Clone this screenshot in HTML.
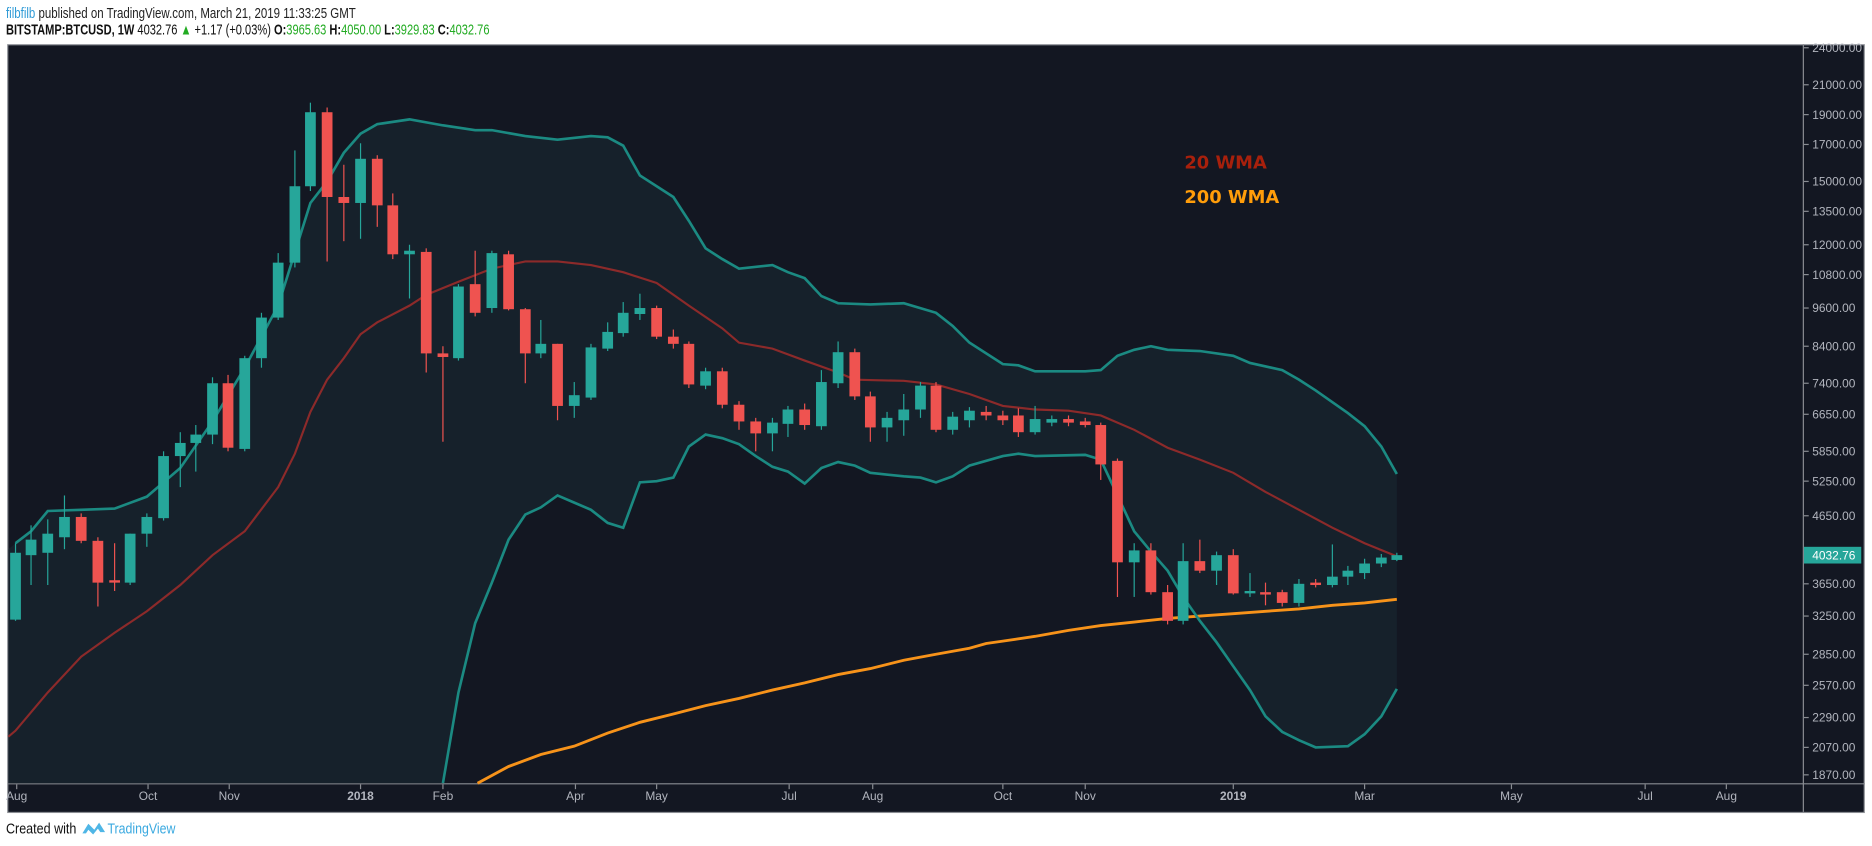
<!DOCTYPE html>
<html><head><meta charset="utf-8"><style>
html,body{margin:0;padding:0;background:#fff;width:1872px;height:846px;overflow:hidden}
svg{display:block}
</style></head><body>
<svg id="s" width="1872" height="846" viewBox="0 0 1568 708.6" preserveAspectRatio="none" xmlns="http://www.w3.org/2000/svg">
<rect x="0" y="0" width="1568" height="709" fill="#fff"/>
<text x="5" y="15" font-family="Liberation Sans Narrow, Liberation Sans, sans-serif" font-size="12.5" textLength="293" lengthAdjust="spacingAndGlyphs"><tspan fill="#2e9ad6">filbfilb</tspan><tspan fill="#222"> published on TradingView.com, March 21, 2019 11:33:25 GMT</tspan></text>
<text x="5" y="29" font-family="Liberation Sans Narrow, Liberation Sans, sans-serif" font-size="12.5" fill="#111" textLength="405" lengthAdjust="spacingAndGlyphs"><tspan font-weight="bold">BITSTAMP:BTCUSD, 1W</tspan><tspan> 4032.76 </tspan><tspan fill="#22ab22">▲</tspan><tspan> +1.17 (+0.03%) </tspan><tspan font-weight="bold">O:</tspan><tspan fill="#22ab22">3965.63 </tspan><tspan font-weight="bold">H:</tspan><tspan fill="#22ab22">4050.00 </tspan><tspan font-weight="bold">L:</tspan><tspan fill="#22ab22">3929.83 </tspan><tspan font-weight="bold">C:</tspan><tspan fill="#22ab22">4032.76</tspan></text>
<rect x="6.5" y="37.5" width="1555" height="643" fill="#131722" stroke="#8a8d93" stroke-width="1"/>
<line x1="1510.5" y1="37" x2="1510.5" y2="680" stroke="#8a8d93"/>
<line x1="7" y1="656.5" x2="1562" y2="656.5" stroke="#8a8d93"/>
<g id="plot"></g>
<g id="axes" font-family="Liberation Sans, sans-serif" font-size="10" fill="#b2b5be"></g>
<text x="992" y="141" font-family="DejaVu Sans, sans-serif" font-weight="bold" font-size="15" fill="#a8200c">20 WMA</text>
<text x="992" y="170" font-family="DejaVu Sans, sans-serif" font-weight="bold" font-size="15" fill="#ff9d0a">200 WMA</text>
<text x="5" y="698" font-family="Liberation Sans Narrow, Liberation Sans, sans-serif" font-size="12" fill="#111" textLength="59" lengthAdjust="spacingAndGlyphs">Created with</text>
<path d="M69 698 L74 690 L79 695 L83 689 L88 697 L84 697 L82 694 L78 699 L74 695 L72 698 Z" fill="#4fb6e6"/>
<text x="90" y="698" font-family="Liberation Sans Narrow, Liberation Sans, sans-serif" font-size="12" fill="#3aa9e0" textLength="57" lengthAdjust="spacingAndGlyphs">TradingView</text>
</svg>
<script>
const NS="http://www.w3.org/2000/svg";
const plot=document.getElementById('plot'),axes=document.getElementById('axes');
function el(p,t,a){const e=document.createElementNS(NS,t);for(const k in a)e.setAttribute(k,a[k]);p.appendChild(e);return e;}
const up=[[13,455],[26,445],[40,428],[68,427],[96,426],[123,416],[151,392],[178,353],[205,308],[233,256],[260,170],[274,152],[288,128],[302,112],[316,104],[343,100],[371,105],[398,109],[412,109],[440,114],[467,117],[495,114],[509,115],[522,122],[536,147],[564,165],[577,185],[591,208],[605,217],[619,225],[647,222],[660,228],[674,233],[688,248],[702,254],[729,255],[757,254],[784,262],[798,273],[812,287],[840,305],[853,306],[867,311],[909,311],[922,310],[936,298],[950,293],[964,290],[978,293],[1005,294],[1033,298],[1047,304],[1074,310],[1088,318],[1102,327],[1129,346],[1143,357],[1157,374],[1170,397]];
const lo=[[371,656],[384,580],[398,522],[412,488],[426,452],[440,431],[453,425],[467,415],[481,421],[495,427],[509,438],[522,442],[536,404],[550,403],[564,400],[577,374],[591,364],[605,367],[619,372],[633,382],[647,391],[660,395],[674,405],[688,392],[702,387],[716,390],[729,396],[757,399],[771,400],[784,404],[798,399],[812,390],[840,382],[853,380],[867,382],[909,381],[922,385],[936,415],[950,445],[964,462],[978,478],[991,500],[1005,520],[1019,538],[1033,558],[1047,578],[1060,600],[1074,613],[1088,620],[1102,626],[1129,625],[1143,615],[1157,600],[1170,577]];
const mid=[[7,617],[13,612],[40,580],[68,550],[96,530],[123,512],[151,490],[178,465],[205,445],[233,408],[247,380],[260,345],[274,318],[288,300],[302,280],[316,270],[343,256],[357,247],[384,236],[412,225],[440,219],[467,219],[495,222],[522,228],[550,237],[577,256],[605,275],[619,287],[647,292],[674,302],[702,312],[716,318],[757,319],[784,322],[812,330],[840,340],[867,343],[895,344],[922,348],[950,360],[978,375],[1005,385],[1033,396],[1060,412],[1088,427],[1116,442],[1143,455],[1170,466]];
const ora=[[400,656],[426,642],[453,632],[481,625],[509,614],[536,605],[564,598],[591,591],[619,585],[647,578],[674,572],[702,565],[729,560],[757,553],[784,548],[812,543],[826,539],[840,537],[867,533],[895,528],[922,524],[950,521],[978,518],[1005,516],[1033,514],[1060,512],[1088,510],[1116,507],[1143,505],[1170,502]];
const pts=a=>a.map(p=>p.join(',')).join(' ');
let fill=[[7,460]].concat(up).concat([[1170,577]]).concat(lo.slice().reverse()).concat([[7,656]]);
el(plot,'polygon',{points:pts(fill),fill:'#16212b'});
el(plot,'polyline',{points:pts(ora),fill:'none',stroke:'#f7931a','stroke-width':2.4});
el(plot,'polyline',{points:pts(mid),fill:'none',stroke:'#8c2a2a','stroke-width':1.8});
el(plot,'polyline',{points:pts(up),fill:'none',stroke:'#1b8a82','stroke-width':2.2});
el(plot,'polyline',{points:pts(lo),fill:'none',stroke:'#1b8a82','stroke-width':2.2});
const C=[[13,'g',463,519,455,520],[26,'g',452,465,440,490],[40,'g',447,463,435,490],[54,'g',433,450,415,460],[68,'r',433,453,430,455],[82,'r',453,488,450,508],[96,'r',486,488,455,495],[109,'g',447,488,447,490],[123,'g',433,447,430,458],[137,'g',382,434,378,436],[151,'g',371,382,362,408],[164,'g',364,371,356,395],[178,'g',321,364,316,372],[191,'r',321,375,314,378],[205,'g',300,376,298,378],[219,'g',266,300,262,308],[233,'g',220,266,212,268],[247,'g',156,220,126,224],[260,'g',94,156,86,160],[274,'r',94,165,90,219],[288,'r',165,170,138,202],[302,'g',133,170,120,200],[316,'r',133,172,130,190],[329,'r',172,213,162,217],[343,'g',210,213,205,250],[357,'r',211,296,208,312],[371,'r',296,299,290,370],[384,'g',240,300,238,302],[398,'r',238,262,210,265],[412,'g',212,258,210,262],[426,'r',213,259,210,260],[440,'r',259,296,258,321],[453,'g',288,296,268,300],[467,'r',288,340,288,352],[481,'g',331,340,320,350],[495,'g',291,333,288,335],[509,'g',278,292,270,294],[522,'g',262,279,253,282],[536,'g',258,263,246,268],[550,'r',258,282,256,284],[564,'r',282,288,276,292],[577,'r',288,322,286,325],[591,'g',311,323,308,326],[605,'r',311,339,308,342],[619,'r',339,353,336,360],[633,'r',353,363,350,378],[647,'g',354,363,350,378],[660,'g',343,355,340,366],[674,'r',343,356,338,360],[688,'g',320,357,310,360],[702,'g',295,321,286,325],[716,'r',295,332,292,335],[729,'r',332,358,328,370],[743,'g',350,358,345,370],[757,'g',343,352,330,365],[771,'g',323,343,320,350],[784,'r',323,360,320,362],[798,'g',349,360,345,364],[812,'g',344,352,341,358],[826,'r',345,348,340,352],[840,'r',348,352,344,356],[853,'r',348,362,342,366],[867,'g',351,362,340,364],[881,'g',351,354,348,357],[895,'r',351,354,348,357],[909,'r',353,356,350,358],[922,'r',356,389,354,402],[936,'r',386,471,384,500],[950,'g',461,471,455,500],[964,'r',461,496,455,498],[978,'r',496,520,490,523],[991,'g',470,520,455,523],[1005,'r',470,478,452,480],[1019,'g',465,478,462,490],[1033,'r',465,497,460,498],[1047,'g',495,497,480,500],[1060,'r',496,498,488,507],[1074,'r',496,505,494,508],[1088,'g',489,505,485,508],[1102,'r',488,490,485,492],[1116,'g',483,490,456,492],[1129,'g',478,483,474,490],[1143,'g',472,480,468,485],[1157,'g',467,472,464,475],[1170,'g',465,469,463,470]];
for(const c of C){const col=c[1]=='g'?'#26a69a':'#ef5350';
el(plot,'line',{x1:c[0],x2:c[0],y1:c[4],y2:c[5],stroke:col,'stroke-width':1});
el(plot,'rect',{x:c[0]-4.5,y:c[2],width:9,height:Math.max(1.2,c[3]-c[2]),fill:col});}
const P=[['24000.00',40],['21000.00',71],['19000.00',96],['17000.00',121],['15000.00',152],['13500.00',177],['12000.00',205],['10800.00',230],['9600.00',258],['8400.00',290],['7400.00',321],['6650.00',347],['5850.00',378],['5250.00',403],['4650.00',432],['3650.00',489],['3250.00',516],['2850.00',548],['2570.00',574],['2290.00',601],['2070.00',626],['1870.00',649]];
for(const p of P){el(axes,'line',{x1:1511,x2:1515,y1:p[1],y2:p[1],stroke:'#8a8d93'});const t=el(axes,'text',{x:1518,y:p[1]+3.5});t.textContent=p[0];}
el(axes,'rect',{x:1511,y:458,width:48,height:14,fill:'#26a69a'});
const tl=el(axes,'text',{x:1518,y:468.5,fill:'#fff'});tl.textContent='4032.76';
const T=[['Aug',14],['Oct',124],['Nov',192],['2018',302],['Feb',371],['Apr',482],['May',550],['Jul',661],['Aug',731],['Oct',840],['Nov',909],['2019',1033],['Mar',1143],['May',1266],['Jul',1378],['Aug',1446]];
for(const t of T){el(axes,'line',{x1:t[1],x2:t[1],y1:657,y2:661,stroke:'#8a8d93'});const e=el(axes,'text',{x:t[1],y:670,'text-anchor':'middle'});if(t[0]=='2018'||t[0]=='2019')e.setAttribute('font-weight','bold');e.textContent=t[0];}
</script>
</body></html>
